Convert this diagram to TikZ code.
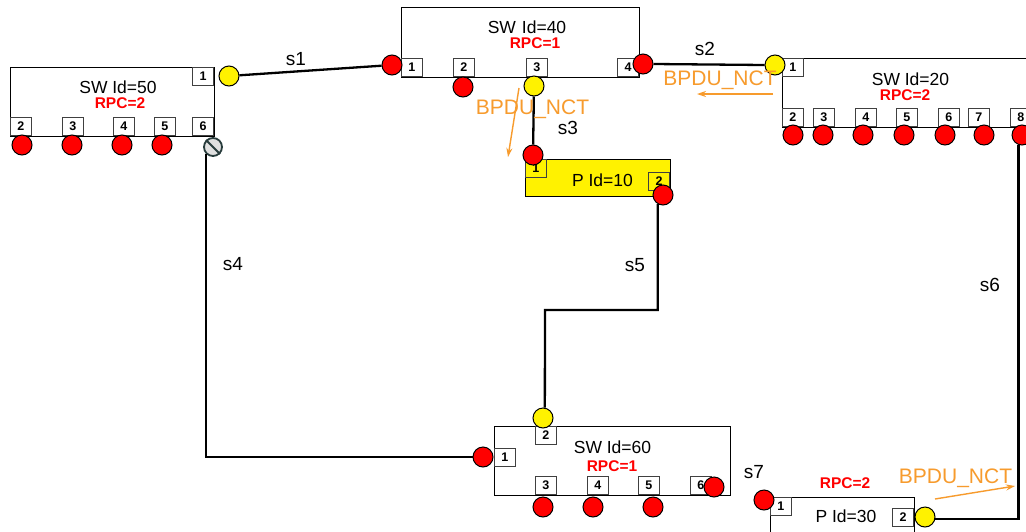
\documentclass[tikz,border=0pt]{standalone}
\usepackage{fontspec}
\setmainfont{Liberation Sans}
\usetikzlibrary{arrows.meta}
\definecolor{bpdu}{RGB}{247,155,45}
\definecolor{rpc}{RGB}{255,0,0}
\definecolor{blkring}{RGB}{40,60,60}
\begin{document}
\begin{tikzpicture}[x=1pt,y=-1pt,
  box/.style={draw=black, line width=1.4pt, fill=white, rectangle, inner sep=0pt, anchor=north west},
  port/.style={draw=black!75, line width=0.8pt, fill=white, rectangle, inner sep=0pt,
               minimum width=21pt, minimum height=18pt, font=\fontsize{12.5}{12}\selectfont\bfseries},
  rc/.style={circle, draw=black, line width=1pt, fill=red, minimum size=20pt, inner sep=0pt},
  yc/.style={circle, draw=black, line width=1pt, fill=yellow, minimum size=20pt, inner sep=0pt},
  conn/.style={line width=2.3pt, draw=black},
  ttl/.style={inner sep=0pt, anchor=base, font=\fontsize{17.5}{20}\selectfont},
  rpcl/.style={inner sep=0pt, anchor=base, text=rpc, font=\fontsize{15.5}{18}\selectfont\bfseries},
  slbl/.style={inner sep=0pt, anchor=base, font=\fontsize{19}{22}\selectfont},
  bpl/.style={inner sep=0pt, anchor=base, text=bpdu, font=\fontsize{21}{23}\selectfont},
  bparr/.style={draw=bpdu, line width=1.4pt, -{Stealth[length=9pt,width=6pt]}}]
\clip (0,0) rectangle (1026,531);
\fill[white] (0,0) rectangle (1026,531);

% ---------- boxes ----------
\node[box, minimum width=204pt, minimum height=69pt] (sw50) at (10,67) {};
\node[box, minimum width=238pt, minimum height=70pt] (sw40) at (401,7) {};
\node[box, minimum width=252pt, minimum height=69pt] (sw20) at (782,58) {};
\node[box, fill=yellow, minimum width=145pt, minimum height=37pt] (p10) at (525,159) {};
\node[box, minimum width=236pt, minimum height=69pt] (sw60) at (494,426) {};
\node[box, minimum width=144pt, minimum height=50pt] (p30) at (770,497) {};

% ---------- port boxes ----------
\node[port, anchor=north east] (sw50p1) at (214,67) {1};
\node[port, anchor=south west] (sw50p2) at (10,136) {2};
\node[port, anchor=south west] (sw50p3) at (62,136) {3};
\node[port, anchor=south west] (sw50p4) at (113,136) {4};
\node[port, anchor=south west] (sw50p5) at (154,136) {5};
\node[port, anchor=south east] (sw50p6) at (214,136) {6};

\node[port, anchor=south west] (sw40p1) at (401,77) {1};
\node[port, anchor=south west] (sw40p2) at (453,77) {2};
\node[port, anchor=south west] (sw40p3) at (526,77) {3};
\node[port, anchor=south east] (sw40p4) at (639,77) {4};

\node[port, anchor=north west] (sw20p1) at (782,58) {1};
\node[port, anchor=south west] (sw20p2) at (782,127) {2};
\node[port, anchor=south west] (sw20p3) at (813,127) {3};
\node[port, anchor=south west] (sw20p4) at (855,127) {4};
\node[port, anchor=south west] (sw20p5) at (896,127) {5};
\node[port, anchor=south west] (sw20p6) at (938,127) {6};
\node[port, anchor=south west] (sw20p7) at (968,127) {7};
\node[port, anchor=south west] (sw20p8) at (1010,127) {8};

\node[port, fill=yellow, anchor=north west] (p10p1) at (525,159) {1};
\node[port, fill=yellow, anchor=north east] (p10p2) at (670,172) {2};

\node[port, anchor=north west] (sw60p2) at (535,426) {2};
\node[port, anchor=north west] (sw60p1) at (494,448) {1};
\node[port, anchor=south west] (sw60p3) at (535,495) {3};
\node[port, anchor=south west] (sw60p4) at (587,495) {4};
\node[port, anchor=south west] (sw60p5) at (638,495) {5};
\node[port, anchor=south west] (sw60p6) at (690,495) {6};

\node[port, anchor=north west] (p30p1) at (770,497) {1};
\node[port, anchor=north east] (p30p2) at (914,508) {2};

% ---------- titles ----------
\node[ttl] (t50) at (118,93.3) {SW Id=50};
\node[rpcl] (rp50) at (120,108.3) {RPC=2};
\node[ttl] (t40) at (527,33.3) {SW\hspace{6pt}Id=40};
\node[rpcl] (rp40) at (535,48.3) {RPC=1};
\node[ttl] (t20) at (910.5,85) {SW Id=20};
\node[rpcl] (rp20) at (905,100.7) {RPC=2};
\node[ttl] (t10) at (602.5,186.7) {P Id=10};
\node[ttl] (t60) at (612.5,453.3) {SW Id=60};
\node[rpcl] (rp60) at (612,471.7) {RPC=1};
\node[ttl] (t30) at (846,522.7) {P Id=30};
\node[rpcl] (rp30) at (845,488.3) {RPC=2};

% ---------- port circles ----------
\node[yc] (y50-1) at (229,76) {};
\node[rc] (r50-2) at (22,145) {};
\node[rc] (r50-3) at (72,145) {};
\node[rc] (r50-4) at (122,145) {};
\node[rc] (r50-5) at (162,145) {};
\node[circle, draw=blkring, line width=1.8pt, fill=black!12, minimum size=18pt, inner sep=0pt] (blk) at (213,147) {};
\draw[blkring, line width=1.8pt] (blk.135) -- (blk.-45);

\node[rc] (r40-1) at (392,65) {};
\node[rc] (r40-2) at (463,87) {};
\node[yc] (y40-3) at (534,86) {};
\node[rc] (r40-4) at (643,64) {};

\node[yc] (y20-1) at (775,65) {};
\node[rc] (r20-2) at (793,135) {};
\node[rc] (r20-3) at (823,135) {};
\node[rc] (r20-4) at (863,135) {};
\node[rc] (r20-5) at (904,135) {};
\node[rc] (r20-6) at (945,135) {};
\node[rc] (r20-7) at (984,135) {};
\node[rc] (r20-8) at (1022,135) {};

\node[rc] (r10-1) at (533,155) {};
\node[rc] (r10-2) at (663,195) {};

\node[yc] (y60-2) at (543,418) {};
\node[rc] (r60-1) at (483,457) {};
\node[rc] (r60-3) at (543,507) {};
\node[rc] (r60-4) at (593,507) {};
\node[rc] (r60-5) at (653,507) {};
\node[rc] (r60-6) at (714,487) {};

\node[rc] (r30-1) at (764,500) {};
\node[yc] (y30-2) at (925,517) {};

% ---------- links ----------
\coordinate (k5) at (545,310);
\draw[conn] (y50-1) -- (r40-1);
\draw[conn] (r40-4.east) -- (y20-1.west);
\draw[conn] (y40-3) -- (r10-1);
\draw[conn] (blk.-135) |- (r60-1);
\draw[conn] (r10-2.-120) |- (k5) -- (y60-2.80);
\draw[conn] (r20-8.-110) |- (y30-2.-10);

\node[slbl] (s1) at (296,65) {s1};
\node[slbl] (s2) at (705,55) {s2};
\node[slbl] (s3) at (568,134) {s3};
\node[slbl] (s4) at (233,270) {s4};
\node[slbl] (s5) at (635,271) {s5};
\node[slbl] (s6) at (990,291) {s6};
\node[slbl] (s7) at (754,478.3) {s7};

% ---------- BPDU ----------
\node[bpl] (b2) at (720,85) {BPDU\_NCT};
\node[bpl] (b3) at (532.5,114) {BPDU\_NCT};
\node[bpl] (b30) at (955.5,483.3) {BPDU\_NCT};
\coordinate (a2s) at (773,94);
\coordinate (a2e) at (697,94);
\coordinate (a3s) at (519,88);
\coordinate (a3e) at (508,157);
\coordinate (a30s) at (935,499);
\coordinate (a30e) at (1015,486);
\draw[bparr] (a2s) -- (a2e);
\draw[bparr] (a3s) -- (a3e);
\draw[bparr] (a30s) -- (a30e);
\end{tikzpicture}
\end{document}
